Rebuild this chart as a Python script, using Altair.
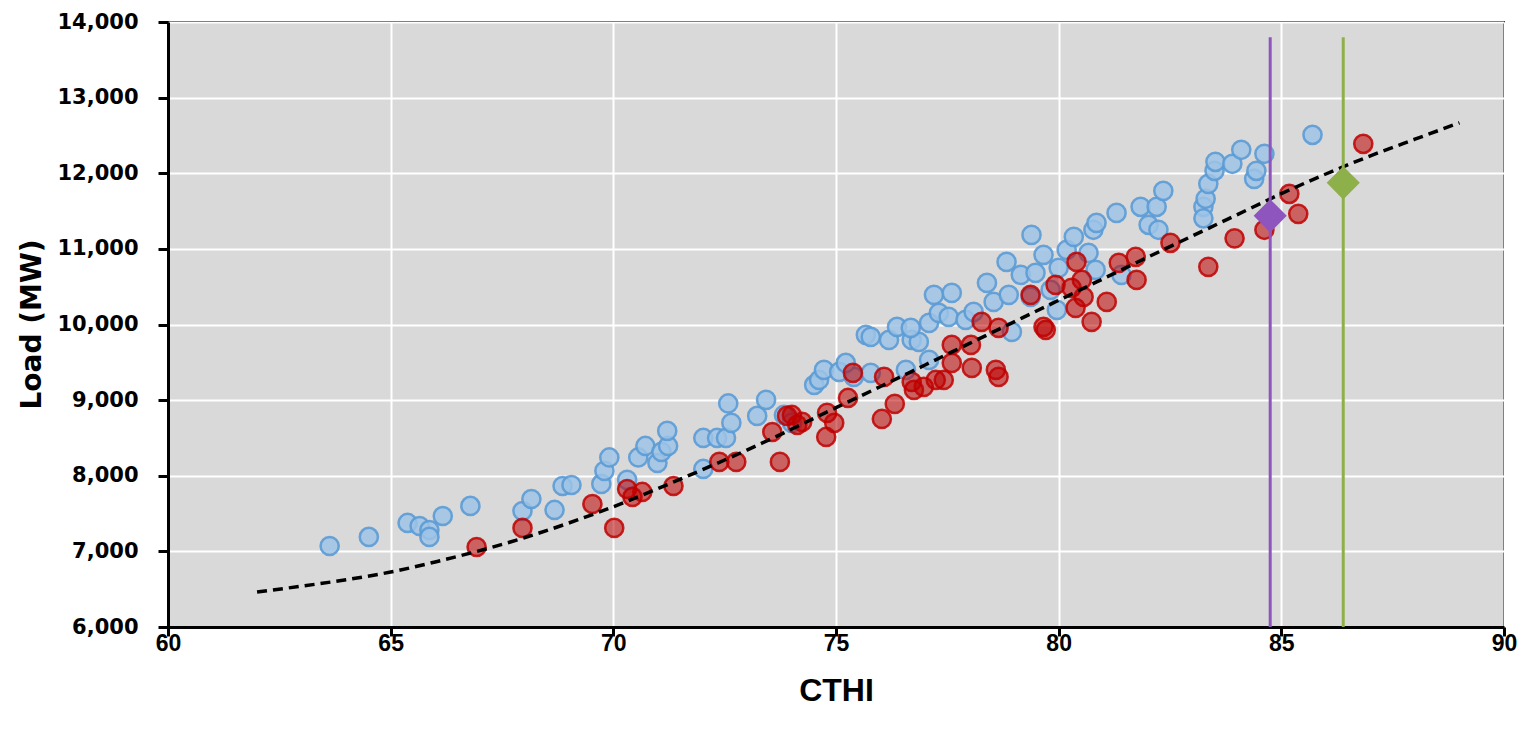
import altair as alt
import pandas as pd

# ---- data ----
blue_x = [63.63, 64.51, 65.38, 65.65, 65.87, 65.87, 66.17, 66.79, 67.96, 68.16, 68.68, 68.86, 69.06,
          69.73, 69.80, 69.91, 70.31, 70.56, 70.72, 70.99, 71.08, 71.23, 71.21, 72.02, 72.02, 72.33,
          72.53, 72.65, 72.58, 73.23, 73.43, 73.83, 74.01, 74.51, 74.62, 74.73, 75.07, 75.40, 75.78,
          75.22, 75.67, 75.78, 76.19, 76.37, 76.70, 76.86, 76.68, 77.09, 76.57, 77.09, 77.20, 77.60,
          77.31, 77.53, 77.91, 78.09, 78.39, 78.54, 78.88, 78.95, 78.83, 79.15, 79.37, 79.39, 79.48,
          79.66, 79.82, 79.96, 80.00, 80.18, 80.34, 80.67, 80.83, 80.78, 80.85, 81.30, 81.41, 81.84,
          82.02, 82.24, 82.20, 83.25, 83.25, 82.35, 83.30, 83.36, 83.50, 83.52, 83.90, 84.10, 84.39,
          84.44, 84.62, 85.70]
blue_y = [7071, 7191, 7376, 7336, 7283, 7191, 7468, 7601, 7534, 7693, 7548, 7865, 7878,
          7892, 8064, 8242, 7945, 8242, 8394, 8169, 8315, 8394, 8593, 8500, 8090, 8500,
          8500, 8699, 8956, 8791, 9003, 8804, 8699, 9201, 9267, 9400, 9373, 9307, 9360,
          9492, 9863, 9836, 9796, 9968, 9796, 9770, 9955, 9532, 9400, 10021, 10392, 10418,
          10154, 10101, 10061, 10167, 10550, 10299, 10392, 9902, 10828, 10656, 10365, 11185, 10683,
          10921, 10458, 10193, 10749, 10987, 11159, 10947, 10722, 11252, 11344, 11476, 10656, 11556,
          11318, 11252, 11556, 11556, 11404, 11767, 11662, 11860, 12032, 12151, 12125, 12310, 11926,
          12032, 12257, 12508]

red_x = [66.93, 67.96, 69.53, 70.02, 70.31, 70.43, 70.65, 71.35, 72.38, 72.76, 73.57, 73.74, 73.90,
         74.01, 74.13, 74.24, 74.78, 74.80, 74.96, 75.27, 75.38, 76.08, 76.03, 76.32, 76.70, 76.75,
         76.97, 77.24, 77.42, 77.60, 77.60, 78.03, 78.05, 78.27, 78.65, 78.59, 78.65, 79.37, 79.66,
         79.71, 79.93, 80.29, 80.40, 80.52, 80.56, 80.38, 80.74, 81.08, 81.35, 81.73, 81.75, 82.51,
         83.36, 83.95, 84.62, 85.18, 85.38, 86.84]
red_y = [7058, 7310, 7627, 7310, 7825, 7720, 7786, 7865, 8183, 8183, 8579, 8183, 8791,
         8804, 8672, 8712, 8513, 8831, 8699, 9029, 9360, 9307, 8751, 8950, 9241, 9135,
         9175, 9267, 9267, 9492, 9730, 9730, 9426, 10035, 9955, 9400, 9307, 10392, 9968,
         9929, 10524, 10484, 10828, 10590, 10365, 10220, 10035, 10299, 10815, 10894, 10590, 11080,
         10762, 11139, 11252, 11728, 11463, 12389]

trend_x = [62, 63, 64, 65, 66, 67, 68, 69, 70, 71, 72, 73, 74, 75, 76, 77, 78, 79, 80,
           81, 82, 83, 84, 85, 86, 87, 88, 89]
trend_y = [6463, 6540, 6625, 6727, 6860, 7010, 7180, 7375, 7590, 7830, 8080, 8340, 8615, 8900,
           9180, 9465, 9750, 10035, 10320, 10605, 10890, 11170, 11450, 11730, 11990, 12230,
           12450, 12667]

marker_names = ["Purple", "Green"]
marker_x = [84.75, 86.39]
marker_y = [11437, 11873]
marker_colors = ["#8E55BE", "#8DB04A"]
rule_bottom = 6000
rule_top = 13800

x_ticks = [60, 65, 70, 75, 80, 85, 90]
y_ticks = [6000, 7000, 8000, 9000, 10000, 11000, 12000, 13000, 14000]

# ---- tables ----
blue_df = pd.DataFrame({"CTHI": blue_x, "Load": blue_y})
red_df = pd.DataFrame({"CTHI": red_x, "Load": red_y})
trend_df = pd.DataFrame({"CTHI": trend_x, "Load": trend_y})
marker_df = pd.DataFrame({"name": marker_names, "CTHI": marker_x, "Load": marker_y,
                          "lo": [rule_bottom] * 2, "hi": [rule_top] * 2, "color": marker_colors})

xscale = alt.Scale(domain=[60, 90], nice=False, zero=False)
yscale = alt.Scale(domain=[6000, 14000], nice=False, zero=False)

xaxis = alt.Axis(values=x_ticks, title="CTHI", grid=True, gridColor="white", gridWidth=2,
                 domainColor="black", domainWidth=3, tickColor="black", tickWidth=3, tickSize=9,
                 labelFont="Liberation Sans Narrow, Liberation Sans", labelFontSize=23,
                 labelFontWeight="bold", labelColor="black", labelPadding=-4, labelFlush=False,
                 titleFont="Liberation Sans Narrow, Liberation Sans", titleFontSize=32,
                 titleFontWeight="bold", titleColor="black", titleBaseline="middle", titleY=63)
yaxis = alt.Axis(values=y_ticks, title="Load (MW)", format=",d", grid=True, gridColor="white",
                 gridWidth=2, domainColor="black", domainWidth=3, tickColor="black", tickWidth=3,
                 tickSize=10, labelFont="DejaVu Sans", labelFontSize=21, labelFontWeight="bold",
                 labelColor="black", labelPadding=20, labelFlush=False, titleFont="DejaVu Sans",
                 titleFontSize=28, titleFontWeight="bold", titleColor="black",
                 titleBaseline="middle", titleX=-136, titleY=302, titleAngle=-90)

x_enc = alt.X("CTHI:Q", scale=xscale, axis=xaxis)
y_enc = alt.Y("Load:Q", scale=yscale, axis=yaxis)

blue = alt.Chart(blue_df).mark_circle(
    size=330, color="#9DC3E6", fillOpacity=0.85, stroke="#5B9BD5", strokeWidth=2.5, strokeOpacity=0.9
).encode(x=x_enc, y=y_enc)

red = alt.Chart(red_df).mark_circle(
    size=330, color="#C00000", fillOpacity=0.55, stroke="#C00000", strokeWidth=2.5, strokeOpacity=0.85
).encode(x="CTHI:Q", y="Load:Q")

trend = alt.Chart(trend_df).mark_line(
    color="black", strokeWidth=3.5, strokeDash=[10, 6], interpolate="monotone"
).encode(x="CTHI:Q", y="Load:Q")

rules = alt.Chart(marker_df).mark_rule(strokeWidth=3).encode(
    x="CTHI:Q", y="lo:Q", y2="hi:Q",
    color=alt.Color("color:N", scale=None, legend=None)
)

diamonds = alt.Chart(marker_df).mark_point(
    shape="diamond", size=1100, filled=True, opacity=1
).encode(x="CTHI:Q", y="Load:Q", color=alt.Color("color:N", scale=None, legend=None))

chart = alt.layer(blue, red, trend, rules, diamonds).properties(
    width=1336, height=605,
    autosize=alt.AutoSizeParams(type="none"),
    padding={"left": 160, "top": 14, "right": 14, "bottom": 90},
    background="white"
).configure_view(fill="#D9D9D9", stroke="black", strokeWidth=2)

chart.save("out.html", embed_options={"renderer": "svg", "actions": False})
